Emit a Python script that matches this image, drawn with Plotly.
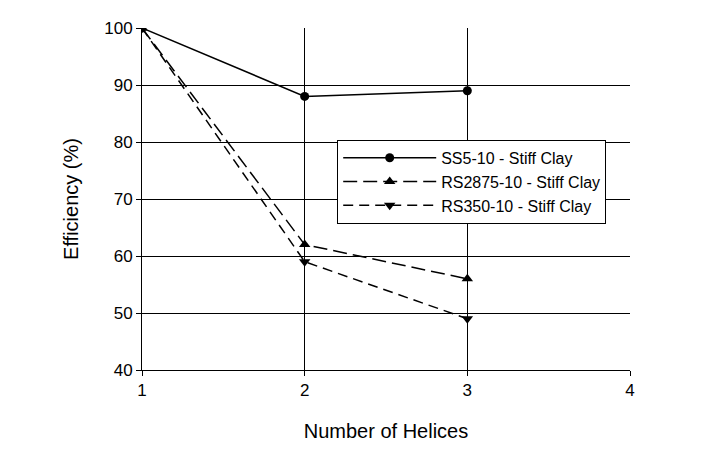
import plotly.graph_objects as go

helices = [1, 2, 3]
ss5_10 = [100, 88, 89]
rs2875_10 = [100, 62, 56]
rs350_10 = [100, 59, 49]
names = ["SS5-10 - Stiff Clay", "RS2875-10 - Stiff Clay", "RS350-10 - Stiff Clay"]
x_ticks = [1, 2, 3, 4]
y_ticks = [40, 50, 60, 70, 80, 90, 100]

fig = go.Figure()
fig.add_trace(go.Scatter(x=helices, y=ss5_10, name=names[0], mode="lines+markers",
                         line=dict(color="black", width=1.5),
                         marker=dict(symbol="circle", size=9, color="black")))
fig.add_trace(go.Scatter(x=helices, y=rs2875_10, name=names[1], mode="lines+markers",
                         line=dict(color="black", width=1.5, dash="14px,6px"),
                         marker=dict(symbol="triangle-up", size=10, color="black")))
fig.add_trace(go.Scatter(x=helices, y=rs350_10, name=names[2], mode="lines+markers",
                         line=dict(color="black", width=1.5, dash="10px,6px"),
                         marker=dict(symbol="triangle-down", size=10, color="black")))

axis_common = dict(showgrid=True, gridcolor="black", gridwidth=1, showline=True,
                   linecolor="black", linewidth=1, ticks="outside", ticklen=5,
                   tickcolor="black", zeroline=False,
                   tickfont=dict(family="Liberation Sans, Arial", size=17, color="black"))

fig.update_layout(
    width=711, height=451,
    margin=dict(l=134, r=89, t=20, b=89),
    plot_bgcolor="white", paper_bgcolor="white",
    font=dict(family="Liberation Sans, Arial", color="black"),
    xaxis=dict(range=[1, 4], tickvals=x_ticks,
               title=dict(text="Number of Helices", font=dict(size=20), standoff=24),
               **axis_common),
    yaxis=dict(range=[40, 100], tickvals=y_ticks,
               title=dict(text="Efficiency (%)", font=dict(size=20), standoff=20),
               **axis_common),
    legend=dict(x=0.40, y=0.673, xanchor="left", yanchor="top",
                bgcolor="white", bordercolor="black", borderwidth=1,
                itemwidth=93,
                font=dict(size=16, color="black"), tracegroupgap=0),
    showlegend=True,
)

fig.write_html("out.html")
